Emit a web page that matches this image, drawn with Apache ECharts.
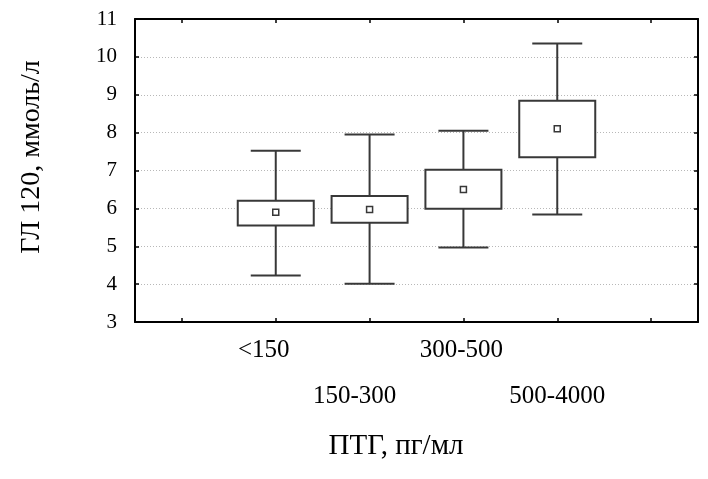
<!DOCTYPE html>
<html>
<head>
<meta charset="utf-8">
<script src="https://cdn.jsdelivr.net/npm/echarts@6/dist/echarts.min.js"></script>
<style>html,body{margin:0;padding:0;background:#fff}#c{width:708px;height:479px}</style>
</head>
<body>
<div id="c"></div>
<script>
// ---- data ----
const categories = ['', '<150', '150-300', '300-500', '500-4000', ''];
const whiskerLow  = [null, 4.23, 4.01, 4.97, 5.84, null];
const boxLow      = [null, 5.55, 5.62, 5.99, 7.35, null];
const means       = [null, 5.90, 5.97, 6.50, 8.10, null];
const boxHigh     = [null, 6.20, 6.33, 7.02, 8.84, null];
const whiskerHigh = [null, 7.52, 7.95, 8.05, 10.35, null];
const yTicks = [3, 4, 5, 6, 7, 8, 9, 10, 11];
const yTitle = 'ГЛ 120, ммоль/л';
const xTitle = 'ПТГ, пг/мл';

// ---- build ----
const FONT = "'Liberation Serif', 'Times New Roman', serif";
const INK = '#383838';
const labelShift = [0, 12, 15, 2, 0, 0];

const boxData = [];
const meanData = [];
categories.forEach((c, i) => {
  if (boxLow[i] == null) return;
  boxData.push([i, whiskerLow[i], boxLow[i], boxHigh[i], whiskerHigh[i]]);
  meanData.push([i, means[i]]);
});

const rich = {};
categories.forEach((c, i) => {
  rich['s' + i] = {
    fontFamily: FONT, fontSize: 25, color: '#000', lineHeight: 46,
    padding: [0, labelShift[i] * 2, 0, 0]
  };
});

const chart = echarts.init(document.getElementById('c'), null, {renderer: 'canvas'});
chart.setOption({
  animation: false,
  backgroundColor: '#fff',
  grid: {left: 135, right: 10, top: 19, bottom: 157, containLabel: false},
  xAxis: [{
    type: 'category', data: categories, position: 'bottom',
    boundaryGap: true,
    axisLine: {show: true, lineStyle: {color: '#000', width: 2}},
    axisTick: {show: true, inside: true, alignWithLabel: true, length: 4, lineStyle: {color: '#000', width: 1.5}},
    axisLabel: {
      show: true, margin: 5, interval: 0, lineHeight: 46, fontSize: 25, fontFamily: FONT,
      formatter: (v, i) => v ? ((i % 2 === 0) ? '\n' : '') + '{s' + i + '|' + v + '}' : '',
      rich: rich
    },
    splitLine: {show: false}
  }, {
    type: 'category', data: categories, position: 'top',
    boundaryGap: true,
    axisLine: {show: true, lineStyle: {color: '#000', width: 2}},
    axisTick: {show: true, inside: true, alignWithLabel: true, length: 4, lineStyle: {color: '#000', width: 1.5}},
    axisLabel: {show: false},
    splitLine: {show: false}
  }],
  yAxis: [{
    type: 'value', min: yTicks[0], max: yTicks[yTicks.length - 1], interval: 1, position: 'left',
    axisLine: {show: true, lineStyle: {color: '#000', width: 2}},
    axisTick: {show: true, inside: true, length: 4, lineStyle: {color: '#000', width: 1.5}},
    axisLabel: {show: true, margin: 18, fontFamily: FONT, fontSize: 21, color: '#000'},
    splitLine: {show: true, lineStyle: {color: '#b8b8b8', type: [1, 2], width: 1}}
  }, {
    type: 'value', min: yTicks[0], max: yTicks[yTicks.length - 1], interval: 1, position: 'right',
    axisLine: {show: true, lineStyle: {color: '#000', width: 2}},
    axisTick: {show: true, inside: true, length: 4, lineStyle: {color: '#000', width: 1.5}},
    axisLabel: {show: false},
    splitLine: {show: false}
  }],
  graphic: [{
    type: 'text', x: 32, y: 157, rotation: Math.PI / 2,
    style: {text: yTitle, fontFamily: FONT, fontSize: 28, fill: '#000', align: 'center', verticalAlign: 'middle'}
  }, {
    type: 'text', x: 396, y: 446,
    style: {text: xTitle, fontFamily: FONT, fontSize: 29, fill: '#000', align: 'center', verticalAlign: 'middle'}
  }],
  series: [{
    type: 'custom',
    data: boxData,
    encode: {x: 0, y: [1, 2, 3, 4]},
    z: 3,
    renderItem: function (params, api) {
      const x = api.value(0);
      const pLow = api.coord([x, api.value(1)]);
      const pQ1 = api.coord([x, api.value(2)]);
      const pQ3 = api.coord([x, api.value(3)]);
      const pHigh = api.coord([x, api.value(4)]);
      const cx = pLow[0];
      const boxHalf = 38, capHalf = 25;
      const ls = {stroke: INK, lineWidth: 2, fill: null};
      return {
        type: 'group',
        children: [
          {type: 'line', shape: {x1: cx, y1: pHigh[1], x2: cx, y2: pQ3[1]}, style: ls},
          {type: 'line', shape: {x1: cx, y1: pQ1[1], x2: cx, y2: pLow[1]}, style: ls},
          {type: 'line', shape: {x1: cx - capHalf, y1: pHigh[1], x2: cx + capHalf, y2: pHigh[1]}, style: ls},
          {type: 'line', shape: {x1: cx - capHalf, y1: pLow[1], x2: cx + capHalf, y2: pLow[1]}, style: ls},
          {type: 'rect', shape: {x: cx - boxHalf, y: pQ3[1], width: boxHalf * 2, height: pQ1[1] - pQ3[1]},
            style: {stroke: INK, lineWidth: 2, fill: '#fff'}}
        ]
      };
    }
  }, {
    type: 'scatter',
    data: meanData,
    symbol: 'rect',
    symbolSize: 6,
    z: 5,
    itemStyle: {color: '#fff', borderColor: INK, borderWidth: 1.5, opacity: 1}
  }]
});
</script>
</body>
</html>
